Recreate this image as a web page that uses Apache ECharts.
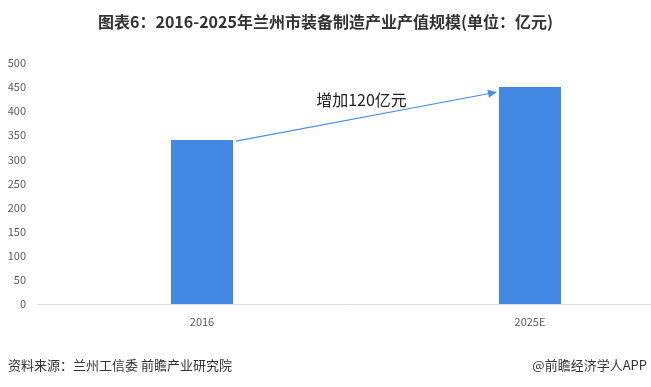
<!DOCTYPE html>
<html><head><meta charset="utf-8">
<script src="https://cdn.jsdelivr.net/npm/echarts@6/dist/echarts.min.js"></script>
<style>html,body{margin:0;padding:0;background:#fff}#c{width:651px;height:387px}</style>
</head><body><div id="c"></div>
<script>
var categories = ['2016', '2025E'];
var values = [340, 450];
var yTicks = [0, 50, 100, 150, 200, 250, 300, 350, 400, 450, 500];
var titleText = '图表6：2016-2025年兰州市装备制造产业产值规模(单位：亿元)';
var noteText = '增加120亿元';
var sourceText = '资料来源：兰州工信委 前瞻产业研究院';
var brandText = '@前瞻经济学人APP';

var font = '"Microsoft YaHei","Noto Sans CJK SC",sans-serif';
var chart = echarts.init(document.getElementById('c'));
chart.setOption({
  backgroundColor: '#fff',
  animation: false,
  title: {
    text: titleText, left: 'center', top: 9,
    textStyle: {fontSize: 16, fontWeight: 'bold', color: '#333', fontFamily: font}
  },
  grid: {left: 38, top: 63, width: 656, height: 241, outerBoundsMode: 'none', containLabel: false},
  xAxis: {
    type: 'category', data: categories,
    axisLine: {lineStyle: {color: '#d9d9d9'}},
    axisTick: {show: false},
    axisLabel: {color: '#595959', fontSize: 11, margin: 12, fontFamily: font}
  },
  yAxis: {
    type: 'value', min: yTicks[0], max: yTicks[yTicks.length - 1], interval: 50,
    axisLine: {show: false}, axisTick: {show: false}, splitLine: {show: false},
    axisLabel: {color: '#595959', fontSize: 11, margin: 12, fontFamily: font}
  },
  series: [{
    type: 'bar', data: values, barWidth: 62,
    itemStyle: {color: '#4287e3'}
  }]
});

// arrow annotation derived from data
var p1 = chart.convertToPixel({seriesIndex: 0}, [0, values[0]]);
var p2 = chart.convertToPixel({seriesIndex: 0}, [1, values[1]]);
var sx = p1[0] + 34, sy = p1[1] + 1;
var ex = p2[0] - 33, ey = p2[1] + 5;
var ang = Math.atan2(ey - sy, ex - sx);
var L = 9, W = 4;
var bx = ex - L * Math.cos(ang), by = ey - L * Math.sin(ang);
var nx = -Math.sin(ang), ny = Math.cos(ang);
chart.setOption({
  graphic: [
    {type: 'line', shape: {x1: sx, y1: sy, x2: bx, y2: by}, style: {stroke: '#4a8ee6', lineWidth: 1.2}},
    {type: 'polygon', shape: {points: [[ex, ey], [bx + nx * W, by + ny * W], [bx - nx * W, by - ny * W]]}, style: {fill: '#4a8ee6'}},
    {type: 'text', x: (sx + ex) / 2 - 5, y: (sy + ey) / 2 - 17,
      style: {text: noteText, fill: '#222', fontSize: 16, fontFamily: font, textAlign: 'center', textVerticalAlign: 'middle'}},
    {type: 'text', left: 8, top: 359,
      style: {text: sourceText, fill: '#333', fontSize: 13, fontFamily: font}},
    {type: 'text', right: 4, top: 359,
      style: {text: brandText, fill: '#333', fontSize: 13, fontFamily: font}}
  ]
});
</script></body></html>
